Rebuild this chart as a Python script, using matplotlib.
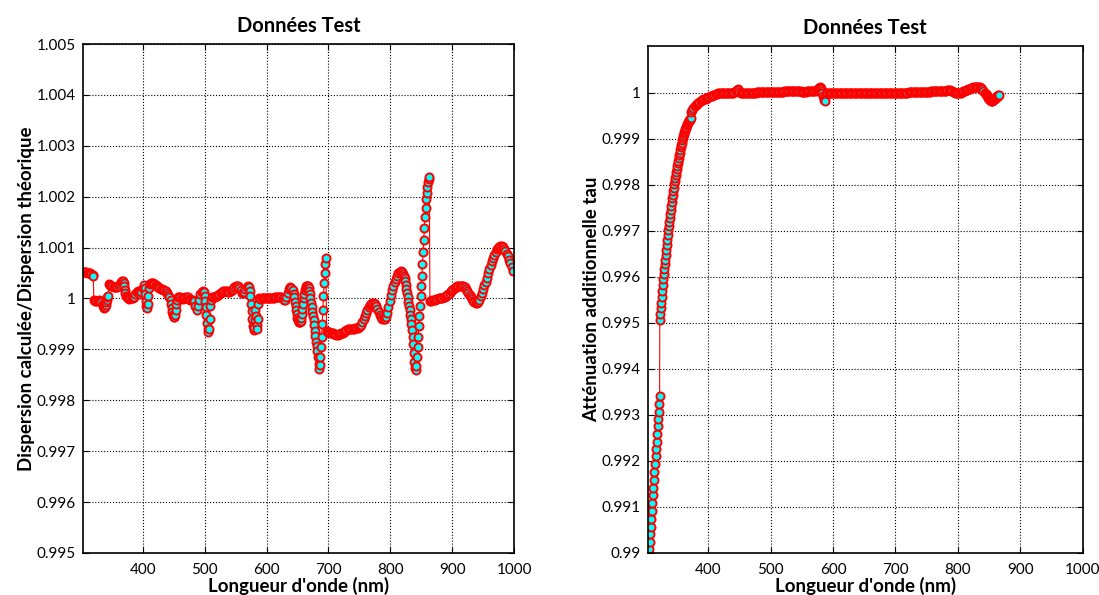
import numpy as np
import matplotlib.pyplot as plt
from matplotlib.ticker import FuncFormatter

plt.rcParams['font.family'] = ['Lato', 'DejaVu Sans']

# Dispersion ratio (left panel)
lam_disp = [303, 305, 307, 309, 311, 313, 315, 317, 319, 320,
            321, 323, 325, 327, 329, 331, 333, 335, 336, 337, 338, 339, 340, 341, 342, 343, 344,
            345, 347, 349, 351, 353, 355, 357, 359, 361, 363, 365, 367, 368, 369, 370, 371, 372, 373, 374,
            376, 378, 380, 382, 384, 386, 388, 390, 392, 394, 396, 398, 400, 402, 403, 404, 405, 406, 407,
            408, 409, 410, 411, 413, 415, 417, 419, 421, 423, 425, 427, 429, 431, 433, 435, 437, 439, 441,
            443, 445, 446, 447, 448, 449, 450, 451, 452, 453, 454, 455, 457, 459, 461, 463, 465, 467, 469,
            471, 473, 475, 477, 479, 481, 483, 485, 487, 489, 491, 493, 495, 497, 499, 500, 501, 502, 503,
            504, 505, 506, 507, 508, 509, 510, 512, 514, 516, 518, 520, 522, 524, 526, 528, 530, 532, 534,
            536, 538, 540, 542, 544, 546, 548, 550, 552, 554, 556, 558, 560, 562, 564, 566, 568, 570, 572,
            573, 574, 575, 576, 577, 578, 579, 580, 581, 582, 583, 584, 585, 586, 587, 588, 590, 592, 594,
            596, 598, 600, 602, 604, 606, 608, 610, 612, 614, 616, 618, 620, 622, 624, 626, 628, 630, 632,
            634, 636, 638, 640, 642, 644, 645, 646, 647, 648, 649, 650, 651, 652, 653, 654, 655, 656, 657,
            658, 659, 660, 661, 662, 663, 664, 665, 666, 667, 668, 669, 670, 671, 672, 673, 674, 675, 676,
            677, 678, 679, 680, 681, 682, 683, 684, 685, 686, 687, 688, 689, 690, 691, 692, 693, 694, 695,
            696,
            697, 699, 701, 703, 705, 707, 709, 711, 713, 715, 717, 719, 721, 723, 725, 727, 729, 731, 733,
            735, 737, 739, 741, 743, 745, 747, 749, 751, 753, 755, 757, 759, 761, 763, 765, 767, 769, 771,
            773, 775, 777, 779, 781, 783, 785, 787, 789, 791, 793, 795, 797, 799, 801, 803, 805, 807, 809,
            811, 813, 815, 817, 819, 821, 822, 823, 824, 825, 826, 827, 828, 829, 830, 831, 832, 833, 834,
            835, 836, 837, 838, 839, 840, 841, 842, 843, 844, 845, 846, 847, 848, 849, 850, 851, 852, 853,
            854, 855, 856, 857, 858, 859, 860, 861, 862, 863,
            864, 866, 868, 870, 872, 874, 876, 878, 880, 882, 884, 886, 888, 890, 892, 894, 896, 898, 900,
            902, 904, 906, 908, 910, 912, 914, 916, 918, 920, 922, 924, 926, 928, 930, 932, 934, 936, 938,
            940, 942, 944, 946, 948, 950, 952, 954, 956, 958, 960, 962, 964, 966, 968, 970, 972, 974, 976,
            978, 980, 982, 984, 986, 988, 990, 992, 994, 996, 998]
ratio = [1.00053, 1.00053, 1.00052, 1.00052, 1.00051, 1.00050, 1.00050, 1.00049, 1.00047, 1.00045,
         0.99997, 0.99996, 0.99995, 0.99996, 0.99997, 0.99995, 0.99993, 0.99990, 0.99986, 0.99983, 0.99982,
         0.99984, 0.99988, 0.99993, 0.99998, 1.00003, 1.00005,
         1.00029, 1.00027, 1.00025, 1.00024, 1.00023, 1.00022, 1.00022, 1.00023, 1.00025, 1.00028, 1.00032,
         1.00035, 1.00034, 1.00030, 1.00024, 1.00017, 1.00010, 1.00005, 1.00002,
         1.00000, 0.99999, 1.00000, 1.00000, 1.00001, 1.00003, 1.00008, 1.00013, 1.00015, 1.00012, 1.00008,
         1.00012, 1.00020, 1.00026, 1.00020, 1.00008, 0.99995, 0.99985, 0.99982,
         0.99990, 1.00005, 1.00020, 1.00028, 1.00031, 1.00031, 1.00030, 1.00028, 1.00026, 1.00024, 1.00022,
         1.00020, 1.00019, 1.00018, 1.00017, 1.00016, 1.00014, 1.00011, 1.00007,
         1.00003, 0.99998, 0.99990, 0.99982, 0.99974, 0.99968, 0.99964, 0.99963, 0.99968, 0.99978, 0.99990,
         0.99998, 1.00002, 1.00003, 1.00002, 1.00000, 0.99999, 1.00000, 1.00002,
         1.00003, 1.00002, 0.99999, 0.99997, 0.99997, 0.99998, 0.99995, 0.99985, 0.99978, 0.99985, 0.99998,
         1.00008, 1.00013, 1.00015, 1.00012, 1.00005, 0.99995, 0.99983, 0.99968,
         0.99952, 0.99940, 0.99934, 0.99940, 0.99960, 0.99985, 0.99998, 1.00002, 1.00003, 1.00003, 1.00004,
         1.00005, 1.00006, 1.00008, 1.00010, 1.00012, 1.00014, 1.00015, 1.00015,
         1.00014, 1.00013, 1.00013, 1.00014, 1.00016, 1.00019, 1.00022, 1.00024, 1.00025, 1.00024, 1.00021,
         1.00016, 1.00011, 1.00010, 1.00013, 1.00018, 1.00022, 1.00024, 1.00022,
         1.00015, 1.00005, 0.99990, 0.99975, 0.99960, 0.99946, 0.99938, 0.99942, 0.99958, 0.99978, 0.99965,
         0.99948, 0.99940, 0.99960, 0.99990, 1.00000, 0.99999, 1.00000, 1.00000,
         1.00001, 1.00001, 1.00001, 1.00000, 1.00000, 1.00000, 1.00000, 1.00001, 1.00001, 1.00002, 1.00002,
         1.00003, 1.00003, 1.00003, 1.00002, 1.00000, 0.99998, 0.99998, 1.00002,
         1.00010, 1.00018, 1.00022, 1.00021, 1.00016, 1.00008, 1.00002, 0.99994, 0.99986, 0.99978, 0.99970,
         0.99962, 0.99957, 0.99954, 0.99953, 0.99953, 0.99956, 0.99962, 0.99970,
         0.99980, 0.99990, 1.00000, 1.00009, 1.00016, 1.00021, 1.00024, 1.00025, 1.00025, 1.00024, 1.00021,
         1.00015, 1.00008, 1.00000, 0.99992, 0.99983, 0.99974, 0.99966, 0.99957,
         0.99947, 0.99937, 0.99926, 0.99915, 0.99906, 0.99896, 0.99885, 0.99872, 0.99862, 0.99870, 0.99885,
         0.99905, 0.99925, 0.99950, 0.99978, 1.00005, 1.00030, 1.00050, 1.00068,
         1.00080,
         0.99936, 0.99935, 0.99934, 0.99933, 0.99933, 0.99932, 0.99931, 0.99930, 0.99929, 0.99929, 0.99930,
         0.99931, 0.99932, 0.99933, 0.99935, 0.99937, 0.99938, 0.99940, 0.99941,
         0.99941, 0.99941, 0.99941, 0.99941, 0.99942, 0.99942, 0.99943, 0.99944, 0.99945, 0.99948, 0.99953,
         0.99960, 0.99966, 0.99972, 0.99978, 0.99983, 0.99987, 0.99990, 0.99991,
         0.99991, 0.99990, 0.99986, 0.99980, 0.99974, 0.99968, 0.99963, 0.99960, 0.99959, 0.99960, 0.99964,
         0.99972, 0.99983, 0.99995, 1.00007, 1.00016, 1.00024, 1.00032, 1.00039,
         1.00045, 1.00050, 1.00053, 1.00054, 1.00053, 1.00049, 1.00045, 1.00040, 1.00034, 1.00026, 1.00018,
         1.00010, 1.00002, 0.99993, 0.99985, 0.99977, 0.99968, 0.99960, 0.99950,
         0.99938, 0.99925, 0.99910, 0.99893, 0.99876, 0.99863, 0.99860, 0.99868, 0.99885, 0.99905, 0.99925,
         0.99945, 0.99965, 0.99985, 1.00005, 1.00025, 1.00045, 1.00068, 1.00092,
         1.00115, 1.00138, 1.00160, 1.00178, 1.00195, 1.00208, 1.00220, 1.00229, 1.00235, 1.00238,
         0.99995, 0.99996, 0.99997, 0.99998, 0.99998, 0.99999, 0.99999, 1.00000, 1.00000, 1.00001, 1.00001,
         1.00002, 1.00003, 1.00004, 1.00006, 1.00008, 1.00011, 1.00014, 1.00017,
         1.00019, 1.00021, 1.00023, 1.00024, 1.00025, 1.00025, 1.00025, 1.00025, 1.00024, 1.00022, 1.00019,
         1.00015, 1.00011, 1.00007, 1.00003, 0.99999, 0.99995, 0.99993, 0.99992,
         0.99992, 0.99994, 0.99998, 1.00004, 1.00011, 1.00019, 1.00026, 1.00033, 1.00041, 1.00050, 1.00058,
         1.00066, 1.00073, 1.00080, 1.00086, 1.00092, 1.00097, 1.00100, 1.00102,
         1.00103, 1.00103, 1.00101, 1.00098, 1.00093, 1.00088, 1.00083, 1.00076, 1.00069, 1.00061, 1.00054]

# Additional attenuation tau (right panel), one pair of lists per piece of the curve
att_lam_a = [305.4, 306.3, 307.1, 308.0, 308.8, 309.7, 310.5, 311.4, 312.2, 313.1, 313.9, 314.8, 315.6,
             316.5, 317.3, 318.2, 319.0, 319.9, 320.7, 321.6, 322.1]
att_tau_a = [0.99008, 0.99023, 0.99041, 0.99057, 0.99074, 0.99091, 0.99108, 0.99125, 0.99142, 0.99159,
             0.99176, 0.99193, 0.99210, 0.99226, 0.99242, 0.99259, 0.99275, 0.99291, 0.99306, 0.99324,
             0.99340]

att_lam_b = [322.4, 323.2, 324.0, 324.8, 325.6, 326.4, 327.2, 328.0, 328.8, 329.6, 330.4, 331.2, 332.0,
             332.8, 333.6, 334.4, 335.2, 336.0, 336.8, 337.6, 338.4, 339.2, 340.0, 340.8, 341.6, 342.4,
             343.2, 344.0, 344.8, 345.6, 346.4, 347.2, 348.0, 348.8, 349.6, 350.4, 351.2, 352.0, 352.8,
             353.6, 354.4, 355.2, 356.0, 356.8, 357.6, 358.4, 359.2, 360.0, 360.8, 361.6, 362.4, 363.2,
             364.0, 364.8, 365.6, 366.4, 367.2, 368.0, 368.8, 369.6, 370.4, 371.2, 372.0]
att_tau_b = [0.99507, 0.99519, 0.99532, 0.99544, 0.99557, 0.99569, 0.99581, 0.99594, 0.99605,
             0.99616, 0.99627, 0.99637, 0.99648, 0.99659, 0.99669, 0.99680, 0.99690, 0.99701,
             0.99710, 0.99719, 0.99728, 0.99737, 0.99745, 0.99754, 0.99762, 0.99770, 0.99778, 0.99786,
             0.99793, 0.99801,
             0.99807, 0.99814, 0.99820, 0.99827, 0.99833, 0.99840, 0.99846, 0.99852, 0.99858, 0.99864,
             0.99869, 0.99875, 0.99881, 0.99886, 0.99891, 0.99897, 0.99902,
             0.99906, 0.99910, 0.99914, 0.99917, 0.99920, 0.99923, 0.99926, 0.99929, 0.99931, 0.99934,
             0.99936, 0.99938, 0.99940, 0.99941, 0.99943, 0.99944]

att_lam_c = [372.4, 374, 376, 378, 380, 382, 384, 386, 388, 390, 392, 394, 396, 398, 400, 402, 404, 406,
             408, 410, 412, 414, 416, 418, 420, 422, 424, 426, 428, 430, 432, 434, 436, 438, 440, 442, 444,
             446, 447, 448, 450, 452, 454, 456, 458, 460, 462, 464, 466, 468, 470, 472, 474, 476, 478, 480,
             482, 484, 486, 488, 490, 492, 494, 496, 498, 500, 502, 504, 506, 508, 510, 512, 514, 516, 518,
             520, 522, 524, 526, 528, 530, 532, 534, 536, 538, 540, 542, 544, 546, 548, 550, 552, 554, 556,
             558, 560, 562, 564, 566, 568, 570, 572, 574, 576, 577, 578, 579, 580, 581, 582, 583, 584, 585,
             586, 587]
att_tau_c = [0.99958, 0.99962, 0.99966, 0.99970, 0.99973, 0.99976, 0.99978, 0.99980, 0.99982, 0.99983,
             0.99985, 0.99986, 0.99987, 0.99989, 0.99990, 0.99991, 0.99992, 0.99993, 0.99994, 0.99995,
             0.99996, 0.99997, 0.99998, 0.99999, 1.00000, 1.00000, 1.00000, 1.00000, 1.00000, 1.00000,
             1.00000, 1.00000, 1.00000, 1.00000, 1.00000, 1.00001, 1.00003, 1.00006, 1.00008, 1.00006,
             1.00002, 1.00000, 0.99999, 0.99999, 0.99999, 0.99999, 0.99999, 0.99999, 0.99999, 1.00000,
             1.00000, 1.00000, 1.00000, 1.00000, 1.00001, 1.00001, 1.00001, 1.00001, 1.00001, 1.00001,
             1.00001, 1.00002, 1.00002, 1.00002, 1.00002, 1.00002, 1.00002, 1.00002, 1.00002, 1.00002,
             1.00002, 1.00002, 1.00002, 1.00002, 1.00002, 1.00002, 1.00003, 1.00003, 1.00003, 1.00003,
             1.00003, 1.00003, 1.00003, 1.00003, 1.00003, 1.00003, 1.00003, 1.00003, 1.00003, 1.00003,
             1.00002, 1.00002, 1.00002, 1.00002, 1.00003, 1.00003, 1.00003, 1.00003, 1.00004, 1.00004,
             1.00004, 1.00004, 1.00005, 1.00007, 1.00009, 1.00010, 1.00011, 1.00010, 1.00007, 1.00003,
             0.99998, 0.99993, 0.99988, 0.99984, 0.99982]

att_lam_d = [589, 591, 593, 595, 597, 599, 601, 603, 605, 607, 609, 611, 613, 615, 617, 619, 621, 623, 625,
             627, 629, 631, 633, 635, 637, 639, 641, 643, 645, 647, 649, 651, 653, 655, 657, 659, 661, 663,
             665, 667, 669, 671, 673, 675, 677, 679, 681, 683, 685, 687, 689, 691, 693, 695, 697, 699, 701,
             703, 705, 707, 709, 711, 713, 715, 717, 719, 721, 723, 725, 727, 729, 731, 733, 735, 737, 739,
             741, 743, 745, 747, 749, 751, 753, 755, 757, 759, 761, 763, 765, 767, 769, 771, 773, 775, 777,
             779, 781, 783, 785, 787, 789, 791, 793, 795, 797, 799, 801, 803, 805, 807, 809, 811, 813, 815,
             817, 819, 821, 823, 825, 827, 829, 831, 833, 835, 837, 839, 841, 843, 845, 846, 847, 848, 849,
             850, 851, 852, 853, 854, 855, 856, 857, 858, 859, 860, 861, 862, 863, 864, 865, 866]
att_tau_d = [0.99998, 0.99998, 0.99999, 0.99999, 0.99999, 0.99999, 0.99999, 0.99999, 0.99999, 0.99999,
             0.99999, 0.99999, 0.99999, 0.99999, 0.99999, 0.99999, 0.99999, 0.99999, 0.99999, 0.99999,
             0.99999, 0.99999, 0.99999, 0.99999, 0.99999, 0.99999, 0.99999, 0.99999, 0.99999, 0.99999,
             0.99999, 0.99999, 0.99999, 0.99999, 0.99999, 0.99999, 0.99999, 0.99999, 0.99999, 1.00000,
             1.00000, 1.00000, 1.00000, 1.00000, 1.00000, 1.00000, 1.00000, 1.00000, 1.00000, 1.00000,
             1.00000, 1.00000, 1.00000, 1.00000, 1.00000, 1.00000, 1.00000, 1.00000, 1.00000, 1.00000,
             1.00000, 1.00000, 1.00000, 1.00000, 1.00000, 1.00000,
             1.00001, 1.00001, 1.00001, 1.00001, 1.00001, 1.00001, 1.00001, 1.00001, 1.00002, 1.00002,
             1.00002, 1.00002, 1.00002, 1.00002, 1.00002, 1.00002, 1.00002, 1.00002, 1.00003, 1.00003,
             1.00003, 1.00003, 1.00003, 1.00003, 1.00003, 1.00003, 1.00003, 1.00003,
             1.00003, 1.00004, 1.00004, 1.00005, 1.00005, 1.00005, 1.00004, 1.00003, 1.00001, 0.99999,
             0.99998, 0.99998, 0.99998, 0.99999,
             1.00000, 1.00002, 1.00003, 1.00004, 1.00005, 1.00006, 1.00007, 1.00008, 1.00009, 1.00010,
             1.00011, 1.00012, 1.00013, 1.00013, 1.00013, 1.00012, 1.00010, 1.00007, 1.00004, 1.00000,
             0.99996,
             0.99994, 0.99992, 0.99990, 0.99988, 0.99986, 0.99984, 0.99983, 0.99982, 0.99982, 0.99982,
             0.99983, 0.99984, 0.99986, 0.99987, 0.99989, 0.99990, 0.99991, 0.99992, 0.99993, 0.99994,
             0.99994]

lam_att = att_lam_a + att_lam_b + att_lam_c + att_lam_d
tau = att_tau_a + att_tau_b + att_tau_c + att_tau_d

xticks = [400, 500, 600, 700, 800, 900, 1000]


def gfmt(v, pos):
    return '%g' % round(v, 4)


def style_axes(ax):
    ax.grid(True, color='k', linestyle=':', linewidth=0.8)
    ax.tick_params(direction='in', top=True, right=True, length=4, labelsize=11)
    ax.tick_params(axis='x', pad=7)
    ax.tick_params(axis='y', pad=5)
    for s in ax.spines.values():
        s.set_linewidth(1.2)
    ax.set_xticks(xticks)
    ax.yaxis.set_major_formatter(FuncFormatter(gfmt))
    ax.set_title('Données Test', fontsize=14.5, fontweight='bold', pad=9)
    ax.set_xlabel("Longueur d'onde (nm)", fontsize=13.5, fontweight='bold', labelpad=0)


fig = plt.figure(figsize=(10.99, 5.95), dpi=100)

ax1 = fig.add_axes([0.07525, 0.07059, 0.39254, 0.85546])
ax1.plot(lam_disp, ratio, '-o', color='red', linewidth=0.8, markersize=5.8,
         markerfacecolor='cyan', markeredgecolor='red', markeredgewidth=1.4)
ax1.set_xlim(303, 1000)
ax1.set_ylim(0.995, 1.005)
ax1.set_yticks(np.round(np.linspace(0.995, 1.005, 11), 3))
style_axes(ax1)
ax1.set_ylabel('Dispersion calculée/Dispersion théorique', fontsize=13.5, fontweight='bold', labelpad=1)

ax2 = fig.add_axes([0.58935, 0.07059, 0.39581, 0.85126])
ax2.plot(lam_att, tau, '-o', color='red', linewidth=0.8, markersize=5.8,
         markerfacecolor='cyan', markeredgecolor='red', markeredgewidth=1.4)
ax2.set_xlim(303, 1000)
ax2.set_ylim(0.99, 1.001)
ax2.set_yticks(np.round(np.linspace(0.99, 1.0, 11), 3))
style_axes(ax2)
ax2.set_ylabel('Atténuation additionnelle tau', fontsize=13.5, fontweight='bold', labelpad=1)

fig.savefig('out.png', dpi=100)
